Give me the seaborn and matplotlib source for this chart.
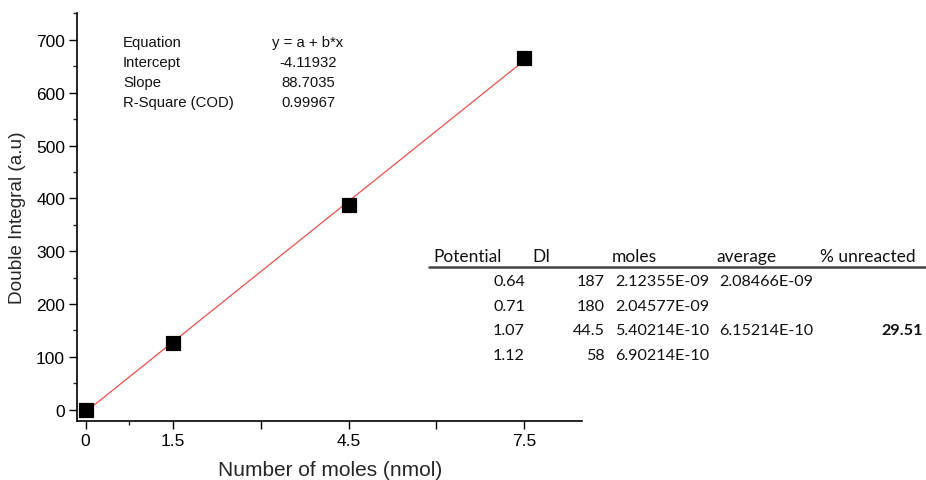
import numpy as np
import pandas as pd
import matplotlib
matplotlib.use("Agg")
import matplotlib.pyplot as plt
import seaborn as sns
from matplotlib.ticker import FixedLocator, MultipleLocator

# data
moles_nmol = [0, 1.5, 4.5, 7.5]
double_integral = [0, 127, 388, 665]

stat_names = ["Equation", "Intercept", "Slope", "R-Square (COD)"]
stat_values = ["y = a + b*x", "-4.11932", "88.7035", "0.99967"]

tbl_header = ["Potential", "DI", "moles", "average", "% unreacted"]
tbl_potential = ["0.64", "0.71", "1.07", "1.12"]
tbl_di = ["187", "180", "44.5", "58"]
tbl_moles = ["2.12355E-09", "2.04577E-09", "5.40214E-10", "6.90214E-10"]
tbl_average = ["2.08466E-09", "", "6.15214E-10", ""]
tbl_unreacted = ["", "", "29.51", ""]

sns.set_theme(style="ticks")
plt.rcParams["font.family"] = ["Liberation Sans", "DejaVu Sans"]

df = pd.DataFrame({"x": moles_nmol, "y": double_integral})
slope, intercept = np.polyfit(df["x"], df["y"], 1)
fit = pd.DataFrame({"x": [min(moles_nmol), max(moles_nmol)]})
fit["y"] = intercept + slope * fit["x"]

fig = plt.figure(figsize=(9.26, 4.81), dpi=100)
ax = fig.add_axes([0.083, 0.123, 0.546, 0.848])

sns.lineplot(data=fit, x="x", y="y", ax=ax, color="#e8504a", linewidth=0.9, zorder=2)
sns.scatterplot(data=df, x="x", y="y", ax=ax, marker="s", s=115, color="black",
                edgecolor="black", zorder=3)

ax.set_xlim(-0.15, 8.5)
ax.set_ylim(-21, 751)
ax.xaxis.set_major_locator(FixedLocator([0, 1.5, 3, 4.5, 6, 7.5]))
ax.set_xticklabels(["0", "1.5", "", "4.5", "", "7.5"])
ax.xaxis.set_minor_locator(FixedLocator([0.75]))
ax.yaxis.set_major_locator(MultipleLocator(100))
ax.yaxis.set_minor_locator(MultipleLocator(50))
ax.tick_params(which="major", direction="out", length=5.5, width=1, labelsize=12.5,
               colors="black", pad=3)
ax.tick_params(which="minor", direction="out", length=3, width=1)
for s in ["top", "right"]:
    ax.spines[s].set_visible(False)
for s in ["left", "bottom"]:
    ax.spines[s].set_color("black")
    ax.spines[s].set_linewidth(1.2)

ax.set_xlabel("Number of moles (nmol)", fontsize=15, labelpad=9)
ax.set_ylabel("Double Integral (a.u)", fontsize=13.7, labelpad=7)

# fit stats
W, H = 926, 481
for i, (n, v) in enumerate(zip(stat_names, stat_values)):
    ypix = 43 + i * 20
    fig.text(123 / W, 1 - ypix / H, n, fontsize=10.7, ha="left", va="center", color="#111111")
    fig.text(308 / W, 1 - ypix / H, v, fontsize=10.7, ha="center", va="center", color="#111111")

# table
tfont = ["Lato", "DejaVu Sans"]
hdr_x = [433, 532, 612, 716, 820]
for h, xp in zip(tbl_header, hdr_x):
    fig.text(xp / W, 1 - 257 / H, h, fontsize=12.5, family=tfont, ha="left", va="center",
             color="#111111")
fig.add_artist(plt.Line2D([429 / W, 1.0], [1 - 268 / H, 1 - 268 / H], color="#444444",
                          linewidth=1.8, transform=fig.transFigure))
cols = [(tbl_potential, 525), (tbl_di, 605), (tbl_moles, 709), (tbl_average, 813),
        (tbl_unreacted, 923)]
row_y = [282, 307, 331, 356]
for ci, (vals, xr) in enumerate(cols):
    for v, yp in zip(vals, row_y):
        if v:
            fig.text(xr / W, 1 - yp / H, v, fontsize=11.6, family=tfont, ha="right",
                     va="center", color="#111111",
                     fontweight="bold" if ci == 4 else "normal")

fig.savefig("out.png", dpi=100)
